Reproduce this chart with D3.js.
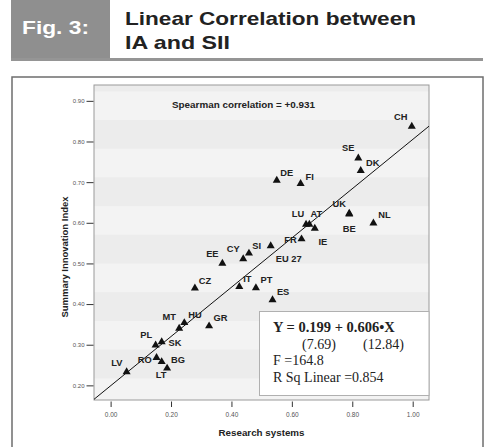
<!DOCTYPE html>
<html>
<head>
<meta charset="utf-8">
<script src="https://cdn.jsdelivr.net/npm/d3@7"></script>
<style>
  body { margin: 0; background: #fff; }
  svg { display: block; font-family: "Liberation Sans", Arial, sans-serif; }
  .tick text { fill: #555; }
  .tick line { stroke: #333; }
  .country { font-weight: bold; font-size: 9.3px; fill: #222; }
  .eq { font-family: "Liberation Serif", "Times New Roman", serif; fill: #222; }
</style>
</head>
<body>
<svg id="chart"></svg>
<script>
const width = 492;
const height = 447;

// data
const countries = ["CH", "SE", "DK", "DE", "FI", "UK", "BE", "NL", "LU", "AT",
  "IE", "FR", "EU 27", "SI", "CY", "EE", "CZ", "IT", "PT", "ES",
  "GR", "HU", "MT", "PL", "SK", "RO", "BG", "LT", "LV"];
const research = [0.997, 0.820, 0.828, 0.550, 0.629, 0.790, 0.790, 0.870, 0.647, 0.658,
  0.676, 0.632, 0.530, 0.458, 0.439, 0.370, 0.279, 0.426, 0.481, 0.536,
  0.326, 0.244, 0.227, 0.149, 0.169, 0.152, 0.169, 0.187, 0.053];
const sii = [0.837, 0.759, 0.728, 0.704, 0.696, 0.623, 0.621, 0.599, 0.596, 0.596,
  0.586, 0.560, 0.543, 0.525, 0.511, 0.500, 0.439, 0.443, 0.440, 0.410,
  0.346, 0.354, 0.340, 0.299, 0.307, 0.268, 0.258, 0.242, 0.233];
const xTicks = [0, 0.2, 0.4, 0.6, 0.8, 1.0];
const yTicks = [0.2, 0.3, 0.4, 0.5, 0.6, 0.7, 0.8, 0.9];
const intercept = 0.199;
const slope = 0.606;

// label placement around each marker (pixels)
const labelOffset = {
  "CH": [-11, -10], "SE": [-10, -10], "DK": [12, -8], "DE": [10, -8], "FI": [9, -7],
  "UK": [-10, -10], "BE": [0, 14], "NL": [11, -8], "LU": [-8, -10.5], "AT": [7, -10.5],
  "IE": [8, 13], "FR": [-11, 0.5], "EU 27": [18, 12.7], "SI": [7.7, -7.8], "CY": [-10, -10],
  "EE": [-10, -9.6], "CZ": [10, -7.6], "IT": [8, -7.7], "PT": [10.5, -8.4], "ES": [10.6, -7.8],
  "GR": [11.5, -8], "HU": [10.7, -8.2], "MT": [-10, -11.3], "PL": [-9.4, -10.3], "SK": [13.3, 0.8],
  "RO": [-11.7, 2.4], "BG": [16.3, -2], "LT": [-6, 6.2], "LV": [-9.7, -9.7]
};

const points = countries.map((c, i) => ({ name: c, x: research[i], y: sii[i] }));

const plot = { left: 94, right: 429, top: 85, bottom: 400 };

const svg = d3.select("#chart")
  .attr("width", width)
  .attr("height", height);

// header
svg.append("rect")
  .attr("x", 11).attr("y", 0)
  .attr("width", 99).attr("height", 61)
  .attr("fill", "#8f8f8f");
svg.append("rect")
  .attr("x", 11).attr("y", 58)
  .attr("width", 472).attr("height", 3)
  .attr("fill", "#959595");
svg.append("text")
  .attr("x", 22).attr("y", 34)
  .attr("font-size", 18).attr("font-weight", "bold")
  .attr("fill", "#fff")
  .attr("textLength", 67).attr("lengthAdjust", "spacingAndGlyphs")
  .text("Fig. 3:");
svg.append("text")
  .attr("x", 125).attr("y", 25)
  .attr("font-size", 18.5).attr("font-weight", "bold")
  .attr("fill", "#222")
  .attr("textLength", 291).attr("lengthAdjust", "spacingAndGlyphs")
  .text("Linear Correlation between");
svg.append("text")
  .attr("x", 125).attr("y", 48.5)
  .attr("font-size", 18.5).attr("font-weight", "bold")
  .attr("fill", "#222")
  .attr("textLength", 105).attr("lengthAdjust", "spacingAndGlyphs")
  .text("IA and SII");

// outer frame
svg.append("rect")
  .attr("x", 12).attr("y", 77)
  .attr("width", 471).attr("height", 380)
  .attr("fill", "none")
  .attr("stroke", "#6e6e6e")
  .attr("stroke-width", 1.5);

const x = d3.scaleLinear()
  .domain([-0.055, 1.054])
  .range([plot.left, plot.right]);

const y = d3.scaleLinear()
  .domain([0.164, 0.939])
  .range([plot.bottom, plot.top]);

// plot background with stripes
svg.append("rect")
  .attr("x", plot.left).attr("y", plot.top)
  .attr("width", plot.right - plot.left)
  .attr("height", plot.bottom - plot.top)
  .attr("fill", "#f3f3f3");

const bandH = 28.7;
const bandStart = 91.3;
const bands = [];
for (let b = bandStart - bandH; b < plot.bottom; b += bandH) bands.push(b);
svg.selectAll(".band")
  .data(bands.filter((d, i) => i % 2 === 0))
  .join("rect")
  .attr("class", "band")
  .attr("x", plot.left)
  .attr("y", d => Math.max(d, plot.top))
  .attr("width", plot.right - plot.left)
  .attr("height", d => Math.min(d + bandH, plot.bottom) - Math.max(d, plot.top))
  .attr("fill", "#ececec");

svg.append("rect")
  .attr("x", plot.left).attr("y", plot.top)
  .attr("width", plot.right - plot.left)
  .attr("height", plot.bottom - plot.top)
  .attr("fill", "none")
  .attr("stroke", "#9a9a9a")
  .attr("stroke-width", 1);

// axes
const yAxis = svg.append("g")
  .attr("transform", `translate(${plot.left - 0.5},0)`)
  .call(d3.axisLeft(y).tickValues(yTicks).tickFormat(d3.format(".2f")).tickSize(7).tickPadding(2));
yAxis.select(".domain").remove();
yAxis.selectAll("text").attr("font-size", 6).attr("font-family", "Liberation Sans, Arial, sans-serif");

const xAxis = svg.append("g")
  .attr("transform", `translate(0,${plot.bottom + 1.5})`)
  .call(d3.axisBottom(x).tickValues(xTicks).tickFormat(d3.format(".2f")).tickSize(5.5).tickPadding(5));
xAxis.select(".domain").remove();
xAxis.selectAll("text").attr("font-size", 6.5).attr("font-family", "Liberation Sans, Arial, sans-serif");

// axis titles
svg.append("text")
  .attr("x", (plot.left + plot.right) / 2)
  .attr("y", 436)
  .attr("text-anchor", "middle")
  .attr("font-size", 9.5).attr("font-weight", "bold")
  .attr("fill", "#222")
  .attr("textLength", 86).attr("lengthAdjust", "spacingAndGlyphs")
  .text("Research systems");

svg.append("text")
  .attr("transform", "translate(65,257) rotate(-90)")
  .attr("text-anchor", "middle")
  .attr("dy", "0.35em")
  .attr("font-size", 9).attr("font-weight", "bold")
  .attr("fill", "#222")
  .attr("textLength", 121).attr("lengthAdjust", "spacingAndGlyphs")
  .text("Summary Innovation Index");

svg.append("text")
  .attr("x", 172).attr("y", 107.5)
  .attr("font-size", 9.2).attr("font-weight", "bold")
  .attr("fill", "#222")
  .attr("textLength", 143).attr("lengthAdjust", "spacingAndGlyphs")
  .text("Spearman correlation = +0.931");

// regression line
svg.append("clipPath").attr("id", "clip")
  .append("rect")
  .attr("x", plot.left).attr("y", plot.top)
  .attr("width", plot.right - plot.left)
  .attr("height", plot.bottom - plot.top);

const xd = x.domain();
svg.append("line")
  .attr("clip-path", "url(#clip)")
  .attr("x1", x(xd[0])).attr("y1", y(intercept + slope * xd[0]))
  .attr("x2", x(xd[1])).attr("y2", y(intercept + slope * xd[1]))
  .attr("stroke", "#111")
  .attr("stroke-width", 1);

// labels then markers
svg.selectAll(".country")
  .data(points)
  .join("text")
  .attr("class", "country")
  .attr("x", d => x(d.x) + labelOffset[d.name][0])
  .attr("y", d => y(d.y) + labelOffset[d.name][1])
  .attr("text-anchor", "middle")
  .attr("dy", "0.35em")
  .text(d => d.name);

svg.selectAll(".marker")
  .data(points)
  .join("path")
  .attr("class", "marker")
  .attr("transform", d => `translate(${x(d.x)},${y(d.y)})`)
  .attr("d", d3.symbol(d3.symbolTriangle, 28))
  .attr("fill", "#111");

// equation box
const box = svg.append("g");
box.append("rect")
  .attr("x", 259.5).attr("y", 311.5)
  .attr("width", plot.right - 259.5).attr("height", 84)
  .attr("fill", "#fff")
  .attr("stroke", "#b0b0b0")
  .attr("stroke-width", 1);
box.append("text")
  .attr("class", "eq")
  .attr("x", 273).attr("y", 331.5)
  .attr("font-size", 14.5).attr("font-weight", "bold")
  .text("Y = 0.199 + 0.606•X");
box.append("text")
  .attr("class", "eq")
  .attr("x", 302).attr("y", 349)
  .attr("font-size", 14)
  .text("(7.69)");
box.append("text")
  .attr("class", "eq")
  .attr("x", 363).attr("y", 349)
  .attr("font-size", 14)
  .text("(12.84)");
box.append("text")
  .attr("class", "eq")
  .attr("x", 273).attr("y", 365)
  .attr("font-size", 14)
  .text("F =164.8");
box.append("text")
  .attr("class", "eq")
  .attr("x", 273).attr("y", 381.5)
  .attr("font-size", 14)
  .text("R Sq Linear =0.854");
</script>
</body>
</html>
